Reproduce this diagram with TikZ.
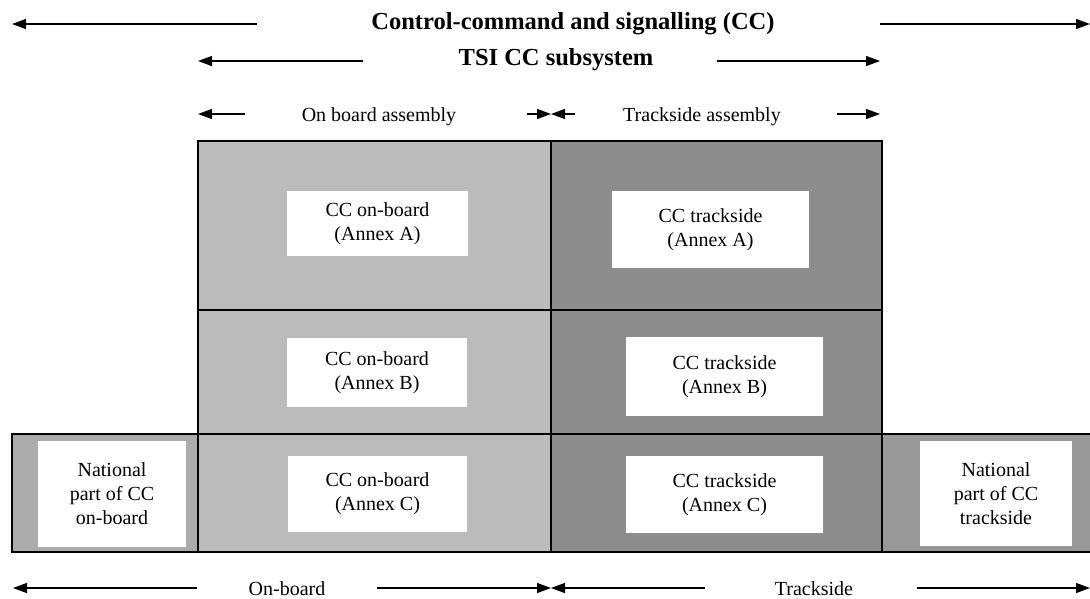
\documentclass[tikz,border=0pt]{standalone}
\usepackage{fontspec}
\setmainfont{Liberation Serif}
\usetikzlibrary{arrows.meta}
\definecolor{obgray}{HTML}{BBBBBB}
\definecolor{tsgray}{HTML}{8D8D8D}
\definecolor{nobgray}{HTML}{ABABAB}
\definecolor{ntsgray}{HTML}{989898}
\begin{document}
\begin{tikzpicture}[x=1pt,y=-1pt,
  frame/.style={draw=black, line width=1.6pt},
  whitebox/.style={fill=white, draw=none, inner sep=0pt, align=center, font=\fontsize{20}{24}\selectfont},
  lbl/.style={font=\fontsize{20}{24}\selectfont, inner sep=0pt, anchor=base},
  ttl/.style={font=\fontsize{24.5}{29}\selectfont\bfseries, inner sep=0pt, anchor=base},
  arr/.style={-{Triangle[length=14pt,width=10pt]}, line width=1.3pt},
]
\useasboundingbox (0,0) rectangle (1090,598);

% cell fills
\fill[obgray] (198,141) rectangle (551,552);
\fill[tsgray] (551,141) rectangle (882,552);
\fill[nobgray] (12,434) rectangle (198,552);
\fill[ntsgray] (882,434) rectangle (1090,552);

% frame lines
\draw[frame] (198,434) -- (198,141) -- (882,141) -- (882,434);
\draw[frame] (1091,434) -- (12,434) -- (12,552) -- (1091,552);
\draw[frame] (198,310) -- (882,310);
\draw[frame] (198,434) -- (198,552);
\draw[frame] (551,141) -- (551,552);
\draw[frame] (882,434) -- (882,552);

% white boxes
\node[whitebox, minimum width=181pt, minimum height=65pt] (obA) at (377.5,223.5) {CC on-board\\(Annex A)};
\node[whitebox, minimum width=180pt, minimum height=69pt] (obB) at (377,372.5) {CC on-board\\(Annex B)};
\node[whitebox, minimum width=179pt, minimum height=76pt] (obC) at (377.5,494) {CC on-board\\(Annex C)};
\node[whitebox, minimum width=148pt, minimum height=106pt] (natob) at (112,494) {National\\part of CC\\on-board};
\node[whitebox, minimum width=197pt, minimum height=77pt] (tsA) at (710.5,229.5) {CC trackside\\(Annex A)};
\node[whitebox, minimum width=197pt, minimum height=79pt] (tsB) at (724.5,376.5) {CC trackside\\(Annex B)};
\node[whitebox, minimum width=197pt, minimum height=77pt] (tsC) at (724.5,494.5) {CC trackside\\(Annex C)};
\node[whitebox, minimum width=152pt, minimum height=105pt] (natts) at (996,493.5) {National\\part of CC\\trackside};

% labels
\node[ttl] (cc) at (573,29.5) {Control-command and signalling (CC)};
\node[ttl] (tsi) at (556,65.5) {TSI CC subsystem};
\node[lbl] (oba) at (379,121) {On board assembly};
\node[lbl] (tsa) at (702,121) {Trackside assembly};
\node[lbl] (onb) at (287,595) {On-board};
\node[lbl] (trk) at (814,595) {Trackside};

% arrow end points
\coordinate (r1a) at (257,24);  \coordinate (r1b) at (12,24);
\coordinate (r1c) at (880,24);  \coordinate (r1d) at (1090,24);
\coordinate (r2a) at (363,61);  \coordinate (r2b) at (198,61);
\coordinate (r2c) at (717,61);  \coordinate (r2d) at (880,61);
\coordinate (r3a) at (245,114); \coordinate (r3b) at (198,114);
\coordinate (r3c) at (527,114); \coordinate (r3m) at (551,114);
\coordinate (r3d) at (575,114);
\coordinate (r3e) at (837,114); \coordinate (r3f) at (880,114);
\coordinate (b1a) at (197,588); \coordinate (b1b) at (13,588);
\coordinate (b1c) at (377,588); \coordinate (b1m) at (551,588);
\coordinate (b1d) at (705,588);
\coordinate (b1e) at (917,588); \coordinate (b1f) at (1090,588);

\draw[arr] (r1a) -- (r1b);
\draw[arr] (r1c) -- (r1d);
\draw[arr] (r2a) -- (r2b);
\draw[arr] (r2c) -- (r2d);
\draw[arr] (r3a) -- (r3b);
\draw[arr] (r3c) -- (r3m);
\draw[arr] (r3d) -- (r3m);
\draw[arr] (r3e) -- (r3f);
\draw[arr] (b1a) -- (b1b);
\draw[arr] (b1c) -- (b1m);
\draw[arr] (b1d) -- (b1m);
\draw[arr] (b1e) -- (b1f);
\end{tikzpicture}
\end{document}
